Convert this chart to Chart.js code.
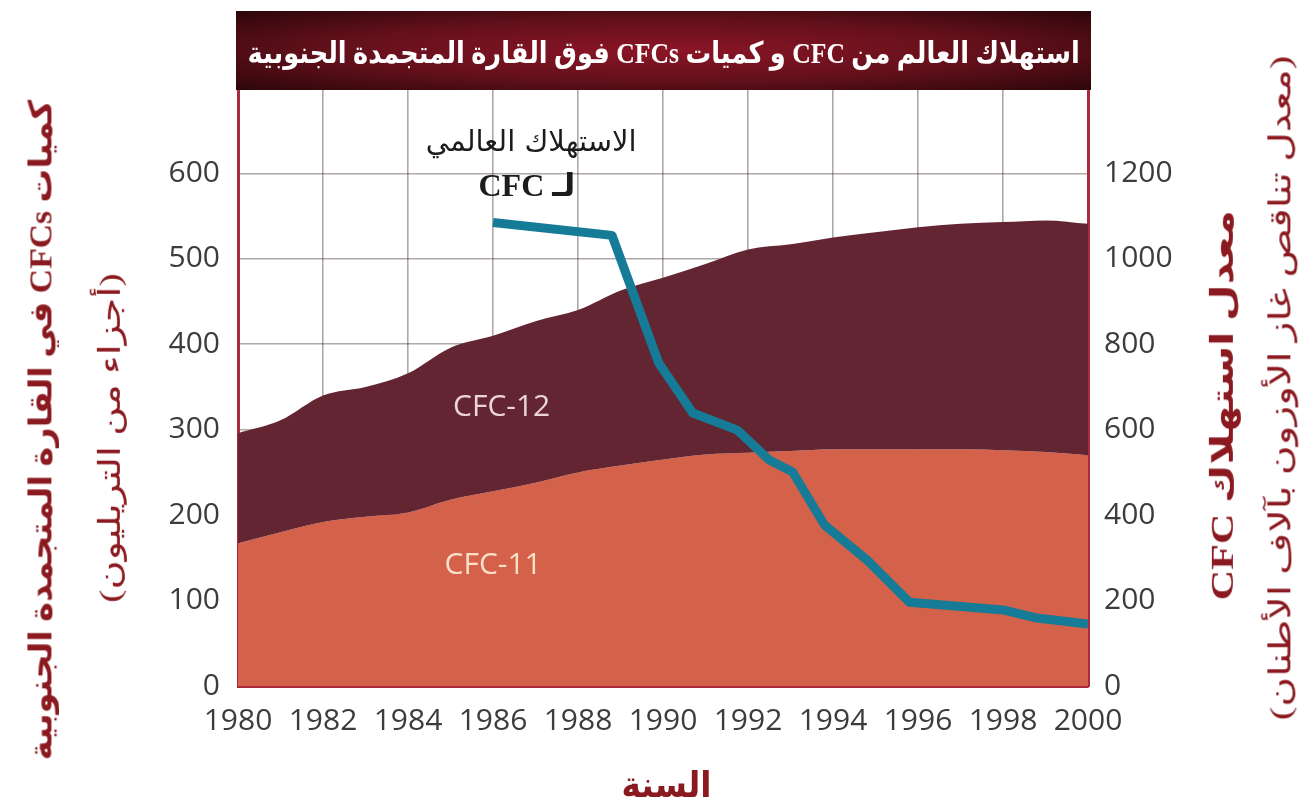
<!DOCTYPE html>
<html lang="ar">

<head>
    <meta charset="UTF-8" />
    <title>استهلاك العالم من CFC وكميات CFCs فوق القارة المتجمدة الجنوبية</title>
    <script src="https://cdn.jsdelivr.net/npm/chart.js"></script>
    <style>
        body {
            margin: 0;
            background: #fff;
        }

        .wrap {
            position: relative;
            width: 1299px;
            height: 811px;
            overflow: hidden;
        }

        .title-bar {
            position: absolute;
            left: 236px;
            top: 11px;
            width: 855px;
            height: 79px;
            background: radial-gradient(ellipse at center, #8c1526 0%, #62101b 55%, #2c0609 100%);
            z-index: 2;
            overflow: hidden;
        }

        .title-bar span {
            position: absolute;
            color: #fff;
            font-family: "Liberation Serif", "DejaVu Sans", serif;
            font-weight: bold;
            font-size: 30px;
            direction: rtl;
            white-space: nowrap;
            transform-origin: center center;
        }

        .axis-title,
        .note {
            position: absolute;
            font-family: "Liberation Serif", "DejaVu Sans", serif;
            white-space: nowrap;
            direction: rtl;
            transform-origin: center center;
            line-height: 1.2;
        }

        .axis-title {
            color: #8b1a20;
        }
    </style>
</head>

<body>
    <div class="wrap">
        <canvas id="cfcChart" width="1299" height="811"></canvas>
        <div class="title-bar"><span id="mainTitle">استهلاك العالم من CFC و كميات CFCs فوق القارة المتجمدة الجنوبية</span></div>

        <div class="axis-title" id="leftTitle1" style="font-weight:bold;font-size:32px;">كميات CFCs في القارة المتجمدة الجنوبية</div>
        <div class="axis-title" id="leftTitle2" style="font-size:30px;">(أجزاء من التريليون)</div>
        <div class="axis-title" id="rightTitle1" style="font-weight:bold;font-size:32px;">معدل استهلاك CFC</div>
        <div class="axis-title" id="rightTitle2" style="font-size:30px;">(معدل تناقص غاز الأوزون بآلاف الأطنان)</div>
        <div class="axis-title" id="xTitle" style="font-weight:bold;font-size:36px;">السنة</div>
    </div>

    <script>
        // قيم مقروءة من الرسم
        const years = [1980, 1981, 1982, 1983, 1984, 1985, 1986, 1987, 1988, 1989, 1990,
            1991, 1992, 1993, 1994, 1995, 1996, 1997, 1998, 1999, 2000];
        const cfc11 = [167, 180, 192, 198, 203, 218, 228, 238, 250, 258, 265,
            271, 273, 275, 277, 277, 277, 277, 276, 274, 270];
        const cfc12 = [129, 131, 148, 152, 163, 178, 182, 189, 190, 205, 213,
            223, 238, 242, 248, 254, 260, 264, 267, 271, 271];

        const consumptionYears = [1986, 1988.8, 1989.9, 1990.7, 1991.75, 1992.5, 1993.05,
            1993.8, 1994.8, 1995.8, 1998, 1998.8, 2000];
        const consumptionValues = [1085, 1055, 756, 639, 599, 529, 501,
            377, 295, 196, 178, 159, 145];

        const leftTicks = [0, 100, 200, 300, 400, 500, 600];
        const rightTicks = [0, 200, 400, 600, 800, 1000, 1200];
        const yearTicks = [1980, 1982, 1984, 1986, 1988, 1990, 1992, 1994, 1996, 1998, 2000];

        const cfc11Points = years.map((yr, i) => ({ x: yr, y: cfc11[i] }));
        const totalPoints = years.map((yr, i) => ({ x: yr, y: cfc11[i] + cfc12[i] }));
        const consumptionPoints = consumptionYears.map((yr, i) => ({ x: yr, y: consumptionValues[i] }));

        // تسميات داخل الرسم (موضوعة بإحداثيات البيانات)
        const inChartLabels = [
            { text: "CFC-12", x: 1986.2, y: 329, css: "color:#ecd5d8;font:30px 'Open Sans';direction:ltr" },
            { text: "CFC-11", x: 1986.0, y: 145, css: "color:#fbe0c8;font:30px 'Open Sans';direction:ltr" },
            { text: "الاستهلاك العالمي", x: 1986.9, y: 638, css: "color:#1c1c1c;font:29px 'DejaVu Sans'" },
            { text: "لـ CFC", x: 1986.8, y: 586, css: "color:#1c1c1c;font:bold 32px 'Liberation Serif','DejaVu Sans'" }
        ];

        const gridColor = "rgba(35, 15, 15, 0.36)";
        const frameColor = "#a82a3c";
        const tickFont = { family: "'Open Sans'", size: 30 };

        function hideEdges(edges) {
            return (ctx) => (edges.includes(ctx.tick.value) ? "rgba(0,0,0,0)" : gridColor);
        }

        const chart = new Chart(document.getElementById("cfcChart"), {
            type: "line",
            data: {
                datasets: [
                    {
                        label: "CFC-11",
                        data: cfc11Points,
                        yAxisID: "y",
                        backgroundColor: "#d4614a",
                        borderWidth: 0,
                        pointRadius: 0,
                        fill: "origin",
                        cubicInterpolationMode: "monotone",
                        order: 3
                    },
                    {
                        label: "CFC-12",
                        data: totalPoints,
                        yAxisID: "y",
                        backgroundColor: "#622531",
                        borderWidth: 0,
                        pointRadius: 0,
                        fill: "-1",
                        cubicInterpolationMode: "monotone",
                        order: 2
                    },
                    {
                        label: "الاستهلاك العالمي لـ CFC",
                        data: consumptionPoints,
                        yAxisID: "y2",
                        borderColor: "#167b96",
                        borderWidth: 9,
                        borderJoinStyle: "round",
                        pointRadius: 0,
                        fill: false,
                        tension: 0,
                        order: 1
                    }
                ]
            },
            options: {
                responsive: false,
                animation: false,
                layout: { padding: { top: 88, left: 0, right: 0, bottom: 0 } },
                plugins: {
                    legend: { display: false },
                    tooltip: { enabled: false },
                    title: { display: false }
                },
                scales: {
                    x: {
                        type: "linear",
                        min: 1980,
                        max: 2000,
                        z: 1,
                        afterFit: (s) => { s.height = 125; },
                        afterBuildTicks: (s) => { s.ticks = yearTicks.map((v) => ({ value: v })); },
                        ticks: {
                            font: tickFont,
                            color: "#3c3c3c",
                            padding: 17,
                            maxRotation: 0,
                            callback: (v) => String(v)
                        },
                        grid: { color: hideEdges([1980, 2000]), lineWidth: 1.6, drawTicks: false },
                        border: { display: true, color: frameColor, width: 3 }
                    },
                    y: {
                        position: "left",
                        min: 0,
                        max: 700,
                        z: 1,
                        afterFit: (s) => { s.width = 238; },
                        afterBuildTicks: (s) => { s.ticks = leftTicks.concat([700]).map((v) => ({ value: v })); },
                        ticks: {
                            font: tickFont,
                            color: "#3c3c3c",
                            padding: 18,
                            callback: (v) => (leftTicks.includes(v) ? String(v) : "")
                        },
                        grid: { color: hideEdges([0, 700]), lineWidth: 1.6, drawTicks: false },
                        border: { display: true, color: frameColor, width: 3 }
                    },
                    y2: {
                        position: "right",
                        min: 0,
                        max: 1400,
                        z: 1,
                        afterFit: (s) => { s.width = 211; },
                        afterBuildTicks: (s) => { s.ticks = rightTicks.map((v) => ({ value: v })); },
                        ticks: {
                            font: tickFont,
                            color: "#3c3c3c",
                            padding: 16,
                            callback: (v) => String(v)
                        },
                        grid: { display: false, drawTicks: false },
                        border: { display: true, color: frameColor, width: 3 }
                    }
                }
            }
        });

        const wrap = document.querySelector(".wrap");
        inChartLabels.forEach((l) => {
            const el = document.createElement("div");
            el.className = "note";
            el.style.cssText = l.css;
            el.textContent = l.text;
            wrap.appendChild(el);
            const cx = chart.scales.x.getPixelForValue(l.x);
            const cy = chart.scales.y.getPixelForValue(l.y);
            el.style.left = (cx - el.offsetWidth / 2) + "px";
            el.style.top = (cy - el.offsetHeight / 2) + "px";
        });

        // العناوين: تدوير وتمديد النص إلى الطول المطلوب
        function placeText(id, cx, cy, angle, length) {
            const el = document.getElementById(id);
            const w = el.offsetWidth, h = el.offsetHeight;
            const k = length ? length / w : 1;
            el.style.left = (cx - w / 2) + "px";
            el.style.top = (cy - h / 2) + "px";
            el.style.transform = "rotate(" + angle + "deg) scaleX(" + k + ")";
        }
        placeText("mainTitle", 427, 41, 0, 832);
        placeText("leftTitle1", 40, 430, -90, 660);
        placeText("leftTitle2", 110, 438, -90, 330);
        placeText("rightTitle1", 1222, 405, -90, 390);
        placeText("rightTitle2", 1280, 388, -90, 665);
        placeText("xTitle", 666, 785, 0, 90);
    </script>
</body>

</html>
